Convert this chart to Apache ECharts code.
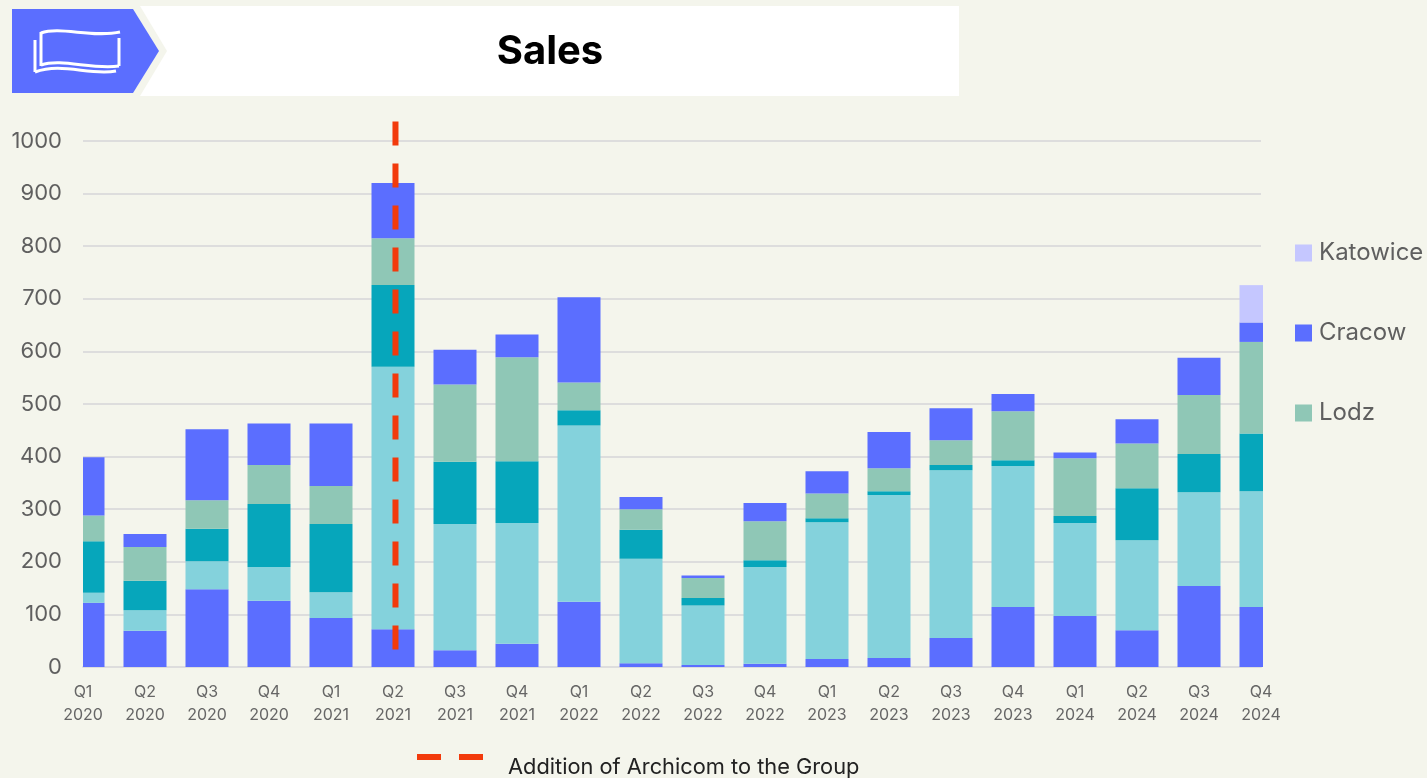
<!DOCTYPE html>
<html>
<head>
<meta charset="utf-8">
<title>Sales</title>
<script src="https://cdn.jsdelivr.net/npm/echarts@6/dist/echarts.min.js"></script>
<style>
html, body { margin: 0; padding: 0; background: #f4f5ec; }
#salesChart { width: 1427px; height: 778px; }
</style>
</head>
<body>
<div id="salesChart"></div>
<script>
var quarters = ['Q1\n2020', 'Q2\n2020', 'Q3\n2020', 'Q4\n2020', 'Q1\n2021', 'Q2\n2021', 'Q3\n2021', 'Q4\n2021', 'Q1\n2022', 'Q2\n2022',
    'Q3\n2022', 'Q4\n2022', 'Q1\n2023', 'Q2\n2023', 'Q3\n2023', 'Q4\n2023', 'Q1\n2024', 'Q2\n2024', 'Q3\n2024', 'Q4\n2024'];
var yTicks = [0, 1000];

// the two lowest pieces and the teal one have no name in the legend of the picture
var poznan = [122, 69, 148, 126, 93, 72, 32, 44, 124, 7, 4, 6, 15, 17, 55, 114, 97, 70, 154, 114];
var warsaw = [19, 39, 53, 64, 49, 499, 240, 230, 335, 199, 113, 184, 260, 310, 319, 268, 177, 171, 178, 220];
var wroclaw = [98, 56, 62, 120, 130, 155, 118, 117, 29, 55, 14, 13, 8, 7, 10, 11, 13, 99, 73, 110];
var lodz = [49, 64, 54, 74, 72, 89, 147, 198, 53, 39, 38, 74, 47, 44, 47, 93, 110, 85, 112, 174];
var cracow = [111, 25, 135, 79, 119, 105, 66, 43, 162, 23, 5, 35, 42, 69, 61, 33, 11, 46, 71, 37];
var katowice = [0, 0, 0, 0, 0, 0, 0, 0, 0, 0, 0, 0, 0, 0, 0, 0, 0, 0, 0, 71];

// dashed marker, x is in quarters from the first bar
var archicomLine = [[5.04, 1037], [5.04, 32]];

var fontName = 'Inter, "Noto Sans", sans-serif';
var barWidth = 43;
var runningTotal = quarters.map(function () { return 0; });

// bar series clip is widened on a non-band axis, the first and last bars are cut at the axis ends here
function renderPiece(params, api) {
    var from = api.coord([api.value(0), api.value(1)]);
    var to = api.coord([api.value(0), api.value(2)]);
    var area = params.coordSys;
    var rect = echarts.graphic.clipRectByRect(
        { x: from[0] - barWidth / 2, y: to[1], width: barWidth, height: from[1] - to[1] },
        { x: area.x, y: area.y, width: area.width + 2, height: area.height }
    );
    return rect && { type: 'rect', shape: rect, style: { fill: api.visual('color') } };
}

function stackPiece(name, data, color) {
    var rows = data.map(function (v, i) {
        var base = runningTotal[i];
        runningTotal[i] = base + v;
        return [i, base, base + v];
    });
    return {
        name: name,
        type: 'custom',
        renderItem: renderPiece,
        encode: { x: 0, y: [1, 2] },
        data: rows,
        itemStyle: { color: color }
    };
}

// header icon strokes
function iconLine(x1, y1, x2, y2) {
    return { type: 'line', shape: { x1: x1, y1: y1, x2: x2, y2: y2 }, style: { stroke: '#ffffff', lineWidth: 3 } };
}
function iconWave(x1, y1, cx1, cy1, cx2, cy2, x2, y2) {
    return {
        type: 'bezierCurve',
        shape: { x1: x1, y1: y1, cpx1: cx1, cpy1: cy1, cpx2: cx2, cpy2: cy2, x2: x2, y2: y2 },
        style: { stroke: '#ffffff', lineWidth: 3, fill: null }
    };
}

var myChart = echarts.init(document.getElementById('salesChart'));
var option = {
    backgroundColor: '#f4f5ec',
    animation: false,
    textStyle: { fontFamily: fontName },
    grid: { left: 83, right: 166, top: 141, height: 526 },
    legend: {
        data: ['Katowice', 'Cracow', 'Lodz'],
        orient: 'vertical',
        left: 1290,
        top: 236,
        itemWidth: 17,
        itemHeight: 17,
        itemGap: 56,
        icon: 'rect',
        textStyle: { fontSize: 24, color: '#5f5f5f', fontFamily: fontName, padding: [0, 0, 0, 2] }
    },
    xAxis: [{
        type: 'category',
        data: quarters,
        boundaryGap: false,
        axisTick: { show: false },
        axisLine: { lineStyle: { color: '#dddddd', width: 2 } },
        axisLabel: { interval: 0, fontSize: 16, lineHeight: 23, color: '#666666', margin: 14, hideOverlap: false }
    }, {
        type: 'value',
        min: 0,
        max: quarters.length - 1,
        show: false
    }],
    yAxis: {
        type: 'value',
        min: yTicks[0],
        max: yTicks[1],
        interval: 100,
        axisLine: { show: false },
        axisTick: { show: false },
        splitLine: { lineStyle: { color: '#dddddd', width: 2 } },
        axisLabel: { fontSize: 22, color: '#5f5f5f', margin: 21, formatter: function (v) { return String(v); } }
    },
    series: [
        stackPiece('Poznan', poznan, '#5b6eff'),
        stackPiece('Warsaw', warsaw, '#84d2dc'),
        stackPiece('Wroclaw', wroclaw, '#06a6bb'),
        stackPiece('Lodz', lodz, '#8fc7b6'),
        stackPiece('Cracow', cracow, '#5b6eff'),
        stackPiece('Katowice', katowice, '#c5c7ff'),
        {
            name: 'Addition of Archicom to the Group',
            type: 'line',
            xAxisIndex: 1,
            data: archicomLine,
            clip: false,
            symbol: 'none',
            z: 5,
            lineStyle: { color: '#f23a0c', width: 6, type: [24, 18], cap: 'butt' }
        }
    ],
    graphic: [
        // header band
        { type: 'polygon', shape: { points: [[140, 6], [959, 6], [959, 96], [140, 96], [167, 51]] }, style: { fill: '#ffffff' } },
        { type: 'polygon', shape: { points: [[12, 9], [133, 9], [159, 51], [133, 93], [12, 93]] }, style: { fill: '#5b6eff' } },
        iconWave(41, 33, 60, 26, 92, 38, 120, 32),
        iconLine(41, 32, 41, 66),
        iconLine(119, 38, 119, 66),
        iconWave(41, 65, 62, 58, 92, 70, 119, 66),
        iconLine(35, 40, 35, 72),
        iconWave(35, 72, 62, 62, 90, 76, 116, 71),
        {
            type: 'text', x: 550, y: 52,
            style: { text: 'Sales', fontSize: 40, fontWeight: 'bold', fill: '#000000', fontFamily: fontName, textAlign: 'center', textVerticalAlign: 'middle' }
        },
        // key of the dashed marker
        { type: 'rect', shape: { x: 417, y: 754, width: 24, height: 6 }, style: { fill: '#f23a0c' } },
        { type: 'rect', shape: { x: 459, y: 754, width: 24, height: 6 }, style: { fill: '#f23a0c' } },
        {
            type: 'text', x: 508, y: 767,
            style: { text: 'Addition of Archicom to the Group', fontSize: 21.8, fill: '#222222', fontFamily: fontName, textAlign: 'left', textVerticalAlign: 'middle' }
        }
    ]
};
myChart.setOption(option);
</script>
</body>
</html>
